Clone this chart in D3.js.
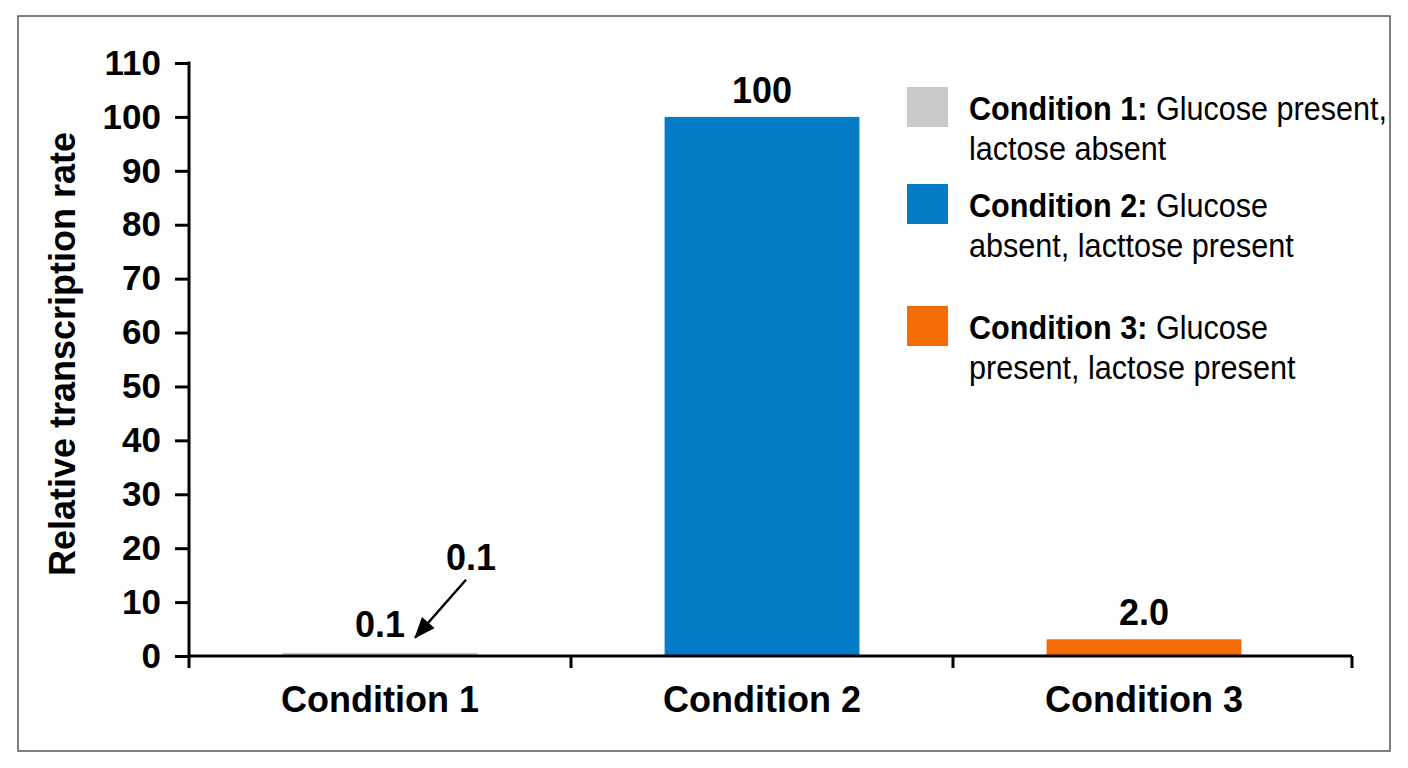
<!DOCTYPE html>
<html>
<head>
<meta charset="utf-8" />
<title>Relative transcription rate</title>
<script src="https://d3js.org/d3.v7.min.js"></script>
<style>
  body { margin: 0; background: #fff; }
  text { font-family: "Liberation Sans", Arial, sans-serif; }
</style>
</head>
<body>
<svg width="1408" height="768"></svg>
<script>
// data
const categories = ["Condition 1", "Condition 2", "Condition 3"];
const values = [0.6, 100, 3.1];          // drawn bar heights
const valueLabels = ["0.1", "100", "2.0"]; // printed labels
const colors = ["#c9c9c9", "#047cc7", "#f46c05"];
const yTicks = [0, 10, 20, 30, 40, 50, 60, 70, 80, 90, 100, 110];
const legendBold = ["Condition 1:", "Condition 2:", "Condition 3:"];
const legendLines = [
  ["Glucose present,", "lactose absent"],
  ["Glucose", "absent, lacttose present"],
  ["Glucose", "present, lactose present"]
];

const svg = d3.select("svg");

// outer frame
svg.append("rect")
  .attr("x", 18).attr("y", 16)
  .attr("width", 1372).attr("height", 735)
  .attr("fill", "none")
  .attr("stroke", "#555")
  .attr("stroke-width", 1.5);

const x = d3.scaleBand()
  .domain(categories)
  .range([189, 1335])
  .paddingInner(0.49)
  .paddingOuter(0.245);

const y = d3.scaleLinear()
  .domain([0, 110])
  .range([656, 63]);

// bars
svg.selectAll(".bar")
  .data(categories)
  .enter()
  .append("rect")
  .attr("class", "bar")
  .attr("x", d => x(d))
  .attr("y", (d, i) => y(values[i]))
  .attr("width", x.bandwidth())
  .attr("height", (d, i) => y(0) - y(values[i]))
  .attr("fill", (d, i) => colors[i]);

// y axis
const yAxis = d3.axisLeft(y).tickValues(yTicks).tickSize(14).tickPadding(14);
const gy = svg.append("g")
  .attr("transform", "translate(189,0)")
  .call(yAxis);
gy.select(".domain").remove();
gy.append("line")
  .attr("x1", 0).attr("x2", 0)
  .attr("y1", y(110) - 1.5).attr("y2", y(0) + 12)
  .attr("stroke", "#000").attr("stroke-width", 3);
gy.selectAll(".tick line").attr("stroke", "#000").attr("stroke-width", 3);
gy.selectAll(".tick text")
  .attr("font-size", 35)
  .attr("font-weight", "bold")
  .attr("fill", "#000")
  .attr("font-family", "'Liberation Sans', Arial, sans-serif");

// x axis
const xEnd = x.range()[1] + 17;
const xAxis = d3.axisBottom(x).tickSize(0).tickPadding(30);
const gx = svg.append("g")
  .attr("transform", "translate(0," + y(0) + ")")
  .call(xAxis);
gx.select(".domain").remove();
gx.append("line")
  .attr("x1", x.range()[0]).attr("x2", xEnd)
  .attr("y1", 0).attr("y2", 0)
  .attr("stroke", "#000").attr("stroke-width", 3);
// ticks at the band boundaries and the axis end
const bounds = d3.range(1, categories.length).map(i => x.range()[0] + i * x.step());
bounds.push(xEnd);
gx.selectAll(".bound")
  .data(bounds)
  .enter()
  .append("line")
  .attr("x1", d => d).attr("x2", d => d)
  .attr("y1", 0).attr("y2", 12)
  .attr("stroke", "#000").attr("stroke-width", 3);
gx.selectAll(".tick text")
  .attr("font-size", 36)
  .attr("font-weight", "bold")
  .attr("fill", "#000")
  .attr("font-family", "'Liberation Sans', Arial, sans-serif");

// y axis title
svg.append("text")
  .attr("transform", "translate(75,354) rotate(-90)")
  .attr("text-anchor", "middle")
  .attr("font-size", 36)
  .attr("font-weight", "bold")
  .text("Relative transcription rate");

// value labels
svg.selectAll(".vlabel")
  .data(categories)
  .enter()
  .append("text")
  .attr("class", "vlabel")
  .attr("x", d => x(d) + x.bandwidth() / 2)
  .attr("y", (d, i) => i === 0 ? y(values[i]) - 16 : y(values[i]) - 14)
  .attr("text-anchor", "middle")
  .attr("font-size", 36)
  .attr("font-weight", "bold")
  .text((d, i) => valueLabels[i]);

// annotation arrow for condition 1
const c1 = x(categories[0]) + x.bandwidth() / 2;
svg.append("defs").append("marker")
  .attr("id", "head")
  .attr("viewBox", "0 0 20 16")
  .attr("refX", 19).attr("refY", 8)
  .attr("markerWidth", 22).attr("markerHeight", 17)
  .attr("markerUnits", "userSpaceOnUse")
  .attr("orient", "auto")
  .append("path")
  .attr("d", "M0,0 L20,8 L0,16 z")
  .attr("fill", "#000");
svg.append("line")
  .attr("x1", c1 + 86).attr("y1", y(values[0]) - 73)
  .attr("x2", c1 + 35).attr("y2", y(values[0]) - 15)
  .attr("stroke", "#000").attr("stroke-width", 2.5)
  .attr("marker-end", "url(#head)");
svg.append("text")
  .attr("x", c1 + 91)
  .attr("y", y(values[0]) - 83)
  .attr("text-anchor", "middle")
  .attr("font-size", 36)
  .attr("font-weight", "bold")
  .text(valueLabels[0]);

// legend
const legendTop = [87, 184, 306];
const legend = svg.append("g").attr("transform", "translate(907,0)");
const item = legend.selectAll(".legend-item")
  .data(categories)
  .enter()
  .append("g")
  .attr("class", "legend-item")
  .attr("transform", (d, i) => "translate(0," + legendTop[i] + ")");

item.append("rect")
  .attr("width", 41).attr("height", 40)
  .attr("fill", (d, i) => colors[i]);

// narrow look: squeeze the text horizontally
const lt = item.append("g")
  .attr("transform", "translate(62,0) scale(0.9,1)")
  .append("text")
  .attr("x", 0)
  .attr("y", 33)
  .attr("font-size", 34)
  .attr("fill", "#000");
lt.append("tspan")
  .attr("font-weight", "bold")
  .text((d, i) => legendBold[i] + " ");
lt.append("tspan")
  .text((d, i) => legendLines[i][0]);
lt.append("tspan")
  .attr("x", 0)
  .attr("dy", 40)
  .text((d, i) => legendLines[i][1]);
</script>
</body>
</html>
